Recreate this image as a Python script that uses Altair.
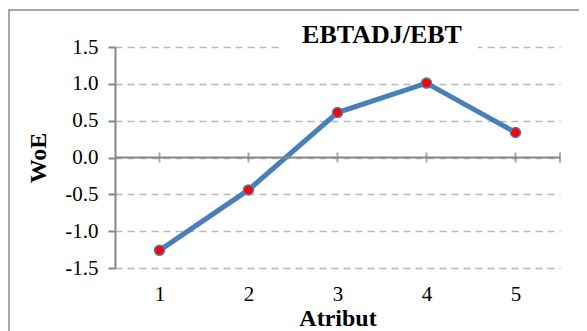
import altair as alt
import pandas as pd

# ---- data ----
categories = [1, 2, 3, 4, 5]
woe = [-1.26, -0.44, 0.61, 1.01, 0.34]
y_ticks = [-1.5, -1.0, -0.5, 0.0, 0.5, 1.0, 1.5]
zero_axis_ticks = [1, 2, 3, 4, 5, 5.5]
title_text = "EBTADJ/EBT"

df = pd.DataFrame({"Atribut": categories, "WoE": woe})
ticks_df = pd.DataFrame({"Atribut": zero_axis_ticks, "WoE": [0.0] * len(zero_axis_ticks)})
zero_df = pd.DataFrame({"Atribut": [0.5], "x1": [5.5], "WoE": [0.0]})
one = pd.DataFrame({"t": [title_text]})

FONT = "Liberation Serif"
GRAY = "#868686"
BLUE = "#4a7ebb"

xscale = alt.Scale(domain=[0.5, 5.5], nice=False, zero=False)
yscale = alt.Scale(domain=[-1.5, 1.5], nice=False, zero=False)

x_axis = alt.Axis(
    values=categories, format="d", title="Atribut",
    domain=False, ticks=False, grid=False,
    labelFont=FONT, labelFontSize=21, labelColor="black", labelPadding=15,
    titleFont=FONT, titleFontSize=24, titleFontWeight="bold", titleColor="black",
    titlePadding=2,
)
y_axis = alt.Axis(
    values=y_ticks, title="WoE",
    labelExpr="replace(format(datum.value, '.1f'), '\u2212', '-')",
    grid=True, gridDash=[7, 5], gridColor="#b8b8b8", gridWidth=1.5,
    domainColor=GRAY, domainWidth=2, tickColor=GRAY, tickWidth=2, tickSize=7,
    labelFont=FONT, labelFontSize=21, labelColor="black", labelPadding=10,
    titleFont=FONT, titleFontSize=24, titleFontWeight="bold", titleColor="black",
    titlePadding=14,
)

X = alt.X("Atribut:Q", scale=xscale, axis=x_axis)
Y = alt.Y("WoE:Q", scale=yscale, axis=y_axis)

border = alt.Chart(one).mark_rect(
    fill="transparent", stroke="#8c8c8c", strokeWidth=1.5
).encode(
    x=alt.value(-106), x2=alt.value(700), y=alt.value(-37), y2=alt.value(500)
)

title_bg = alt.Chart(one).mark_rect(fill="white").encode(
    x=alt.value(168), x2=alt.value(363), y=alt.value(-20), y2=alt.value(4)
)

title_mark = alt.Chart(one).mark_text(
    font=FONT, fontSize=26, fontWeight="bold", color="black",
    align="center", baseline="alphabetic",
).encode(text="t:N", x=alt.value(267), y=alt.value(-4))

zero_line = alt.Chart(zero_df).mark_rule(color=GRAY, strokeWidth=2).encode(
    x=X, x2="x1:Q", y=Y,
)

zero_ticks = alt.Chart(ticks_df).mark_tick(
    color=GRAY, thickness=2, size=10, orient="vertical"
).encode(x=X, y=Y)

line = alt.Chart(df).mark_line(color=BLUE, strokeWidth=5).encode(x=X, y=Y)

points = alt.Chart(df).mark_point(
    filled=True, fill="#ff0000", stroke=BLUE, strokeWidth=1.5, size=100, opacity=1
).encode(x=X, y=Y)

chart = alt.layer(line, border, title_bg, title_mark, zero_line, zero_ticks, points).properties(
    width=445,
    height=221,
    autosize=alt.AutoSizeParams(type="none"),
    padding={"left": 107, "top": 39, "right": 19, "bottom": 64},
    background="white",
).configure_view(stroke="transparent")

chart.save("out.html", embed_options={"renderer": "svg", "actions": False})
